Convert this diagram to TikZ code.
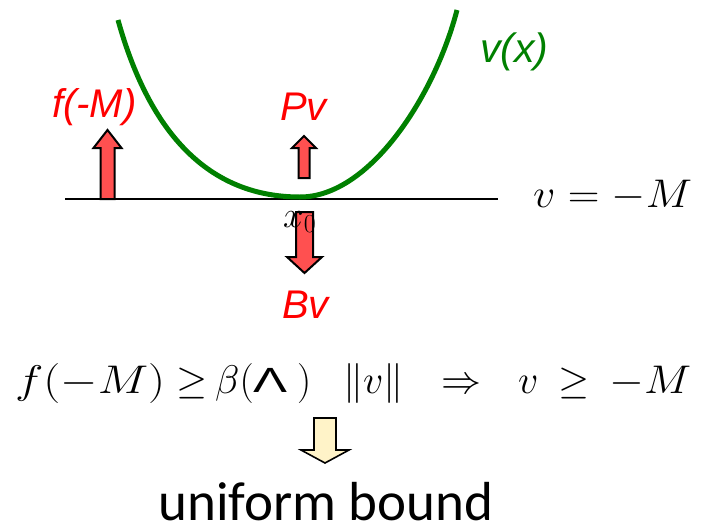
\RequirePackage{fix-cm}
\documentclass[tikz,border=0pt]{standalone}
\usepackage{fontspec}
\newfontfamily\arial{Liberation Sans}
\newfontfamily\calib{Carlito}
\definecolor{arrowred}{RGB}{255,80,80}
\definecolor{curvegreen}{RGB}{0,128,0}
\definecolor{paleyellow}{RGB}{255,243,200}
\newcommand{\wfit}[2]{\resizebox{#1}{\height}{#2}}
\begin{document}
\begin{tikzpicture}[x=1pt,y=-1pt,
  redlbl/.style={text=red, font=\arial\itshape\fontsize{40}{40}\selectfont, inner sep=0pt, anchor=base west},
  greenlbl/.style={text=curvegreen, font=\arial\itshape\fontsize{41}{41}\selectfont, inner sep=0pt, anchor=base west},
  mathlbl/.style={font=\fontsize{40}{40}\selectfont, inner sep=0pt, anchor=base west},
  redarrow/.style={draw=black, fill=arrowred, line width=2pt, line join=miter},
  yelarrow/.style={draw=black, fill=paleyellow, line width=1.6pt, line join=miter}]
\useasboundingbox (0,0) rectangle (703,530);
% axis
\coordinate (axL) at (65,199);
\coordinate (axR) at (498,199);
\draw[line width=1.6pt] (axL) -- (axR);
% curve
\coordinate (cmin) at (300,197);
\coordinate (cleft) at (118,20);
\coordinate (cright) at (457,10);
\draw[curvegreen, line width=5pt] (cleft) .. controls (150,135) and (210,197) .. (cmin)
  .. controls (370,197) and (435,95) .. (cright);
% arrows
\draw[redarrow] (100.5,199) -- (100.5,148) -- (93.5,148) -- (107.5,130) -- (121.5,148) -- (114.5,148) -- (114.5,199) -- cycle;
\draw[redarrow] (298.5,178) -- (298.5,148) -- (292,148) -- (304,136) -- (316,148) -- (309.5,148) -- (309.5,178) -- cycle;
\draw[redarrow] (296,212) -- (296,257) -- (287,257) -- (304.5,273) -- (322,257) -- (313,257) -- (313,212) -- cycle;
\draw[yelarrow] (314,418) -- (314,450) -- (301,450) -- (325,463) -- (349,450) -- (336,450) -- (336,418) -- cycle;
% labels
\node[redlbl] (fm) at (52,117) {f(-M)};
\node[redlbl] (pv) at (280,120) {Pv};
\node[redlbl] (bv) at (282,318) {Bv};
\node[greenlbl] (vx) at (480,62) {v(x)};
\node[mathlbl, font=\fontsize{37}{37}\selectfont] (x0) at (283,227) {$x_0$};
\node[mathlbl] (vm) at (533,207) {\wfit{159pt}{$v=-M$}};
% equation
\node[mathlbl] (e1) at (15,393) {\wfit{150pt}{$f(-M)$}};
\node[mathlbl] (e2) at (176,393) {$\geq$};
\node[mathlbl] (e3) at (215,393) {$\beta($};
\node[mathlbl, font=\arial\fontsize{35}{35}\selectfont] (e4) at (253,392) {\wfit{34pt}{Λ}};
\node[mathlbl] (e5) at (297,393) {$)$};
\node[mathlbl] (e6) at (343,393) {$\|v\|$};
\node[mathlbl] (e7) at (441,393) {$\Rightarrow$};
\node[mathlbl] (e8) at (518,393) {$v$};
\node[mathlbl] (e9) at (558,393) {$\geq$};
\node[mathlbl] (e10) at (609,393) {\wfit{82pt}{$-M$}};
\node[inner sep=0pt, anchor=base, text depth=0pt, font=\calib\fontsize{55}{55}\selectfont] (ub) at (326,520) {uniform bound};
\end{tikzpicture}
\end{document}
